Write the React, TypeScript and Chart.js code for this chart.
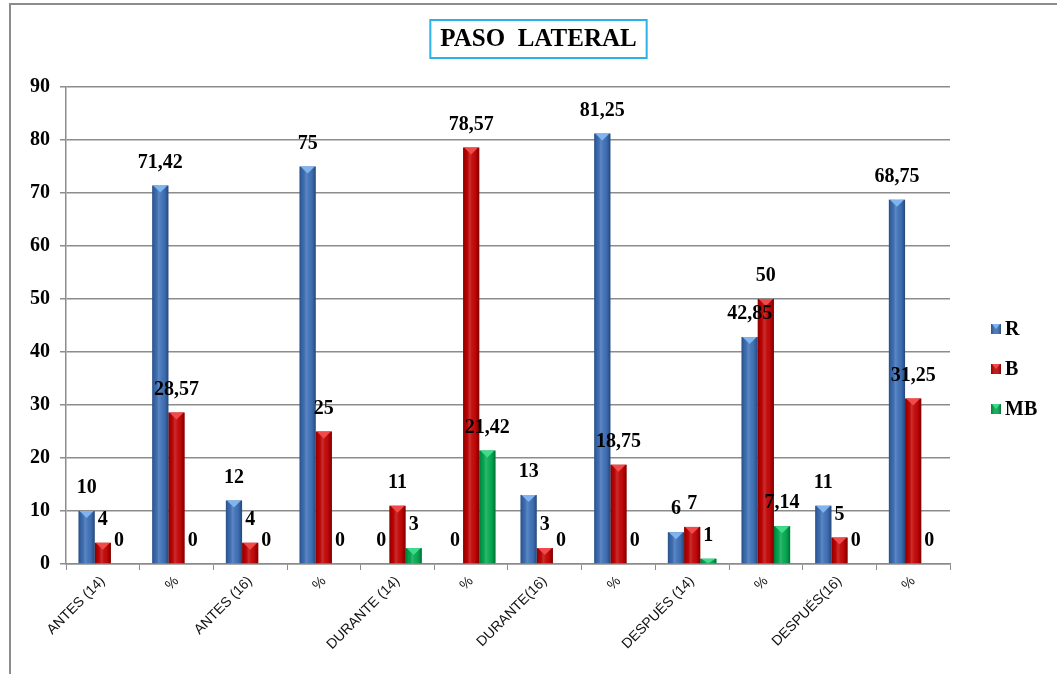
import React, { useEffect, useRef } from "react";
import { Chart, registerables } from "chart.js";

Chart.register(...registerables);

// Categories along the x axis
const categories = [
  "ANTES (14)",
  "%",
  "ANTES (16)",
  "%",
  "DURANTE (14)",
  "%",
  "DURANTE(16)",
  "%",
  "DESPUÉS (14)",
  "%",
  "DESPUÉS(16)",
  "%",
];

// Series values
const seriesR = [10, 71.42, 12, 75, 0, 0, 13, 81.25, 6, 42.85, 11, 68.75];
const seriesB = [4, 28.57, 4, 25, 11, 78.57, 3, 18.75, 7, 50, 5, 31.25];
const seriesMB = [0, 0, 0, 0, 3, 21.42, 0, 0, 1, 7.14, 0, 0];

const seriesNames = ["R", "B", "MB"];
const seriesColors = ["#3a6db5", "#c00000", "#00a84f"];
const seriesLight = ["#7fb4ee", "#f04a4a", "#3ddc8a"];

// Y axis range
const yMin = 0;
const yMax = 90;
const yStep = 10;

const chartTitle = "PASO  LATERAL";

const serif = "'Liberation Serif', 'Times New Roman', serif";
const sans = "'Liberation Sans', Arial, sans-serif";

const fmt = (v: number) => String(v).replace(".", ",");

const decorPlugin = {
  id: "decor",
  beforeDraw(chart: any) {
    const ctx = chart.ctx;
    ctx.save();
    ctx.fillStyle = "#ffffff";
    ctx.fillRect(0, 0, chart.width, chart.height);
    // outer frame
    ctx.strokeStyle = "#8c8c8c";
    ctx.lineWidth = 2;
    ctx.beginPath();
    ctx.moveTo(10, chart.height + 5);
    ctx.lineTo(10, 4);
    ctx.lineTo(chart.width + 5, 4);
    ctx.stroke();
    ctx.restore();
  },
  afterDatasetsDraw(chart: any) {
    const ctx = chart.ctx;
    ctx.save();
    // cylinder-like shading on every bar
    chart.data.datasets.forEach((ds: any, di: number) => {
      const meta = chart.getDatasetMeta(di);
      meta.data.forEach((bar: any) => {
        const { x, y, base, width } = bar.getProps(["x", "y", "base", "width"], true);
        const h = base - y;
        if (h <= 0.5) return;
        const left = x - width / 2;
        const g = ctx.createLinearGradient(left, 0, left + width, 0);
        g.addColorStop(0, "rgba(0,0,0,0.28)");
        g.addColorStop(0.18, "rgba(0,0,0,0.05)");
        g.addColorStop(0.4, "rgba(255,255,255,0.18)");
        g.addColorStop(0.6, "rgba(255,255,255,0.05)");
        g.addColorStop(0.85, "rgba(0,0,0,0.12)");
        g.addColorStop(1, "rgba(0,0,0,0.35)");
        ctx.fillStyle = g;
        ctx.fillRect(left, y, width, h);
        // top bevel
        const th = Math.min(7, h);
        ctx.fillStyle = seriesLight[di];
        ctx.beginPath();
        ctx.moveTo(left + 1, y);
        ctx.lineTo(left + width - 1, y);
        ctx.lineTo(x, y + th);
        ctx.closePath();
        ctx.fill();
      });
    });
    // value labels
    ctx.fillStyle = "#000";
    ctx.font = `bold 20px ${serif}`;
    ctx.textAlign = "center";
    ctx.textBaseline = "middle";
    chart.data.datasets.forEach((ds: any, di: number) => {
      const meta = chart.getDatasetMeta(di);
      meta.data.forEach((bar: any, i: number) => {
        const { x, y } = bar.getProps(["x", "y"], true);
        ctx.fillText(fmt(ds.data[i]), x, y - 23);
      });
    });
    ctx.restore();
  },
  afterDraw(chart: any) {
    const ctx = chart.ctx;
    const area = chart.chartArea;
    ctx.save();
    // title box
    ctx.font = `bold 25px ${serif}`;
    const tw = ctx.measureText(chartTitle).width;
    const cx = (chart.width + 20) / 2;
    const boxW = tw + 20;
    const boxTop = 20;
    const boxH = 38;
    ctx.fillStyle = "#fff";
    ctx.fillRect(cx - boxW / 2, boxTop, boxW, boxH);
    ctx.strokeStyle = "#2cb1e8";
    ctx.lineWidth = 2;
    ctx.strokeRect(cx - boxW / 2, boxTop, boxW, boxH);
    ctx.fillStyle = "#000";
    ctx.textAlign = "center";
    ctx.textBaseline = "middle";
    ctx.fillText(chartTitle, cx, boxTop + boxH / 2 + 1);

    // legend
    const lx = area.right + 41;
    const ly0 = area.top + 242;
    const gap = 40;
    ctx.font = `bold 20px ${serif}`;
    ctx.textAlign = "left";
    chart.data.datasets.forEach((ds: any, di: number) => {
      const yy = ly0 + di * gap;
      const s = 10;
      ctx.fillStyle = seriesColors[di];
      ctx.fillRect(lx, yy - s / 2, s, s);
      const g = ctx.createLinearGradient(lx, 0, lx + s, 0);
      g.addColorStop(0, "rgba(0,0,0,0.25)");
      g.addColorStop(0.5, "rgba(255,255,255,0.1)");
      g.addColorStop(1, "rgba(0,0,0,0.3)");
      ctx.fillStyle = g;
      ctx.fillRect(lx, yy - s / 2, s, s);
      ctx.fillStyle = seriesLight[di];
      ctx.beginPath();
      ctx.moveTo(lx + 1, yy - s / 2);
      ctx.lineTo(lx + s - 1, yy - s / 2);
      ctx.lineTo(lx + s / 2, yy);
      ctx.closePath();
      ctx.fill();
      ctx.fillStyle = "#000";
      ctx.fillText(ds.label, lx + 14, yy + 1);
    });
    ctx.restore();
  },
};

export default function App() {
  const ref = useRef<HTMLCanvasElement | null>(null);

  useEffect(() => {
    if (!ref.current) return;
    const chart = new Chart(ref.current, {
      type: "bar",
      data: {
        labels: categories,
        datasets: [seriesR, seriesB, seriesMB].map((d, i) => ({
          label: seriesNames[i],
          data: d,
          backgroundColor: seriesColors[i],
          borderWidth: 0,
          categoryPercentage: 0.66,
          barPercentage: 1,
        })),
      },
      options: {
        responsive: false,
        animation: false,
        layout: { padding: { left: 10, right: 107, top: 87, bottom: 0 } },
        plugins: {
          legend: { display: false },
          title: { display: false },
          tooltip: { enabled: false },
        },
        scales: {
          x: {
            grid: {
              display: true,
              offset: true,
              drawOnChartArea: false,
              drawTicks: true,
              tickLength: 6,
              color: "#8c8c8c",
            },
            border: { display: true, color: "#8c8c8c", width: 1.5 },
            ticks: {
              autoSkip: false,
              maxRotation: 45,
              minRotation: 45,
              color: "#111",
              font: { family: sans, size: 14 },
              padding: 3,
            },
            afterFit: (scale: any) => {
              scale.height = 110;
            },
          },
          y: {
            min: yMin,
            max: yMax,
            ticks: {
              stepSize: yStep,
              color: "#000",
              font: { family: serif, size: 20, weight: "bold" },
              padding: 10,
            },
            grid: {
              color: "#8c8c8c",
              lineWidth: 1.5,
              tickLength: 6,
            },
            border: { display: true, color: "#8c8c8c", width: 1.5 },
            afterFit: (scale: any) => {
              scale.width = 56;
            },
          },
        },
      },
      plugins: [decorPlugin],
    });
    return () => chart.destroy();
  }, []);

  return (
    <div style={{ position: "fixed", left: 0, top: 0, width: 1057, height: 674, background: "#fff" }}>
      <canvas ref={ref} width={1057} height={674} style={{ display: "block" }} />
    </div>
  );
}
